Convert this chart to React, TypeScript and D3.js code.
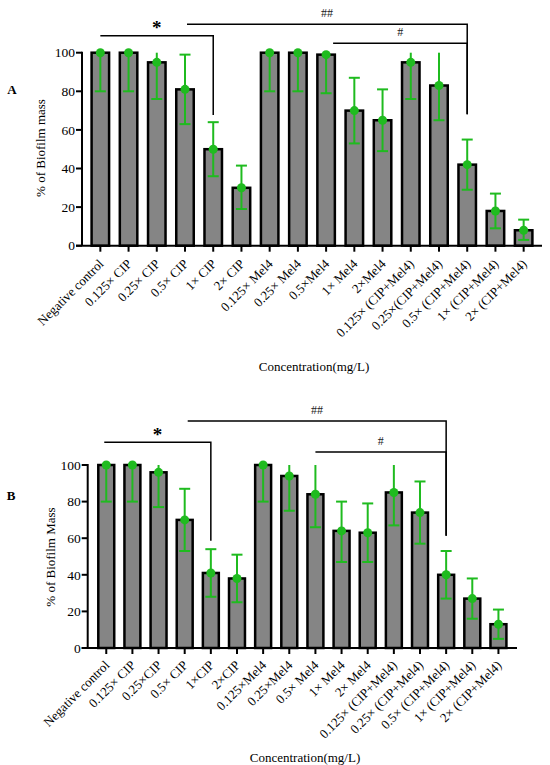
import React from "react";
import * as d3 from "d3";

// ---------- DATA ----------
const categoriesA = [
  "Negative control", "0.125× CIP", "0.25× CIP", "0.5× CIP", "1× CIP", "2× CIP",
  "0.125× Mel4", "0.25× Mel4", "0.5×Mel4", "1× Mel4", "2×Mel4",
  "0.125× (CIP+Mel4)", "0.25×(CIP+Mel4)", "0.5× (CIP+Mel4)", "1× (CIP+Mel4)", "2× (CIP+Mel4)",
];
const meansA = [100, 100, 95, 81, 50, 30, 100, 100, 99, 70, 65, 95, 83, 42, 18, 8];
const lowA = [80, 80, 76, 63, 36, 19, 80, 80, 79, 53, 49, 76, 65, 29, 9, 3];
const highA = [100, 100, 100, 99, 64, 41.5, 100, 100, 100, 87, 81, 100, 100, 55, 27, 13.5];

const categoriesB = [
  "Negative control", "0.125× CIP", "0.25×CIP", "0.5× CIP", "1×CIP", "2×CIP",
  "0.125×Mel4", "0.25×Mel4", "0.5× Mel4", "1× Mel4", "2× Mel4",
  "0.125× (CIP+Mel4)", "0.25× (CIP+Mel4)", "0.5× (CIP+Mel4)", "1× (CIP+Mel4)", "2× (CIP+Mel4)",
];
const meansB = [100, 100, 96, 70, 41, 38, 100, 94, 84, 64, 63, 85, 74, 40, 27, 13];
const lowB = [80, 80, 77, 53, 28, 25, 80, 75, 66, 47, 47, 67, 57, 27, 16, 5];
const highB = [100, 100, 100, 87, 54, 51, 100, 100, 100, 80, 79, 100, 91, 53, 38, 21];

const yTicks = [0, 20, 40, 60, 80, 100];

// significance brackets: label, from index, to index
const sigLabels = ["*", "##", "#"];
const sigFrom = [0, 3, 8];
const sigTo = [4, 13, 13];

// ---------- STYLE ----------
const FONT = "'Liberation Serif', 'Times New Roman', serif";
const GREEN = "#1fbb1f";
const BAR_FILL = "#858585";

type PanelProps = {
  letter: string;
  categories: string[];
  means: number[];
  low: number[];
  high: number[];
  yTitle: string;
  layout: {
    axisX: number; axisRight: number; y0: number; y100: number;
    padInner: number; padOuter: number;
    letterX: number; letterY: number;
    yTitleX: number; yTitleY: number;
    xTitleX: number; xTitleY: number;
    labelDX: number; labelDY: number;
    sigLineY: number[]; sigDropY: number[]; sigStartShift: number[];
  };
};

function Panel({ letter, categories, means, low, high, yTitle, layout: L }: PanelProps) {
  const x = d3.scaleBand<string>()
    .domain(categories)
    .range([L.axisX, L.axisRight])
    .paddingInner(L.padInner)
    .paddingOuter(L.padOuter);
  const y = d3.scaleLinear().domain([0, 100]).range([L.y0, L.y100]);
  const bw = x.bandwidth();
  const cx = (i: number) => (x(categories[i]) as number) + bw / 2;
  const capHalf = 5.5;

  return (
    <g>
      <text x={L.letterX} y={L.letterY} fontFamily={FONT} fontWeight="bold" fontSize={13} textAnchor="middle" dominantBaseline="central">{letter}</text>

      {/* bars */}
      {categories.map((c, i) => (
        <rect key={"b" + i} x={x(c)} y={y(means[i])} width={bw} height={y(0) - y(means[i])}
          fill={BAR_FILL} stroke="#000" strokeWidth={2.5} />
      ))}

      {/* error bars */}
      {categories.map((c, i) => {
        const xc = cx(i);
        const hi = Math.min(high[i], 100);
        return (
          <g key={"e" + i} stroke={GREEN} strokeWidth={2}>
            <line x1={xc} x2={xc} y1={y(low[i])} y2={y(hi)} />
            <line x1={xc - capHalf} x2={xc + capHalf} y1={y(low[i])} y2={y(low[i])} />
            {high[i] < 100 && <line x1={xc - capHalf} x2={xc + capHalf} y1={y(hi)} y2={y(hi)} />}
            <circle cx={xc} cy={y(means[i])} r={4.5} fill={GREEN} stroke="none" />
          </g>
        );
      })}

      {/* axes */}
      <line x1={L.axisX} x2={L.axisX} y1={y(100) - 1} y2={y(0)} stroke="#000" strokeWidth={2} />
      <line x1={L.axisX - 6} x2={L.axisRight} y1={y(0)} y2={y(0)} stroke="#000" strokeWidth={2} />
      {yTicks.map((t) => (
        <g key={"yt" + t}>
          <line x1={L.axisX - 6} x2={L.axisX} y1={y(t)} y2={y(t)} stroke="#000" strokeWidth={2} />
          <text x={L.axisX - 7} y={y(t)} dy="0.35em" textAnchor="end" fontFamily={FONT} fontSize={13.5}>{t}</text>
        </g>
      ))}
      {categories.map((c, i) => (
        <g key={"xt" + i}>
          <line x1={cx(i)} x2={cx(i)} y1={y(0)} y2={y(0) + 6} stroke="#000" strokeWidth={2} />
          <text transform={`translate(${cx(i) + L.labelDX},${y(0) + L.labelDY}) rotate(-45)`} textAnchor="end"
            fontFamily={FONT} fontSize={13}>{c}</text>
        </g>
      ))}

      <text transform={`translate(${L.yTitleX},${L.yTitleY}) rotate(-90)`} textAnchor="middle"
        fontFamily={FONT} fontSize={13}>{yTitle}</text>
      <text x={L.xTitleX} y={L.xTitleY} textAnchor="middle" fontFamily={FONT} fontSize={13}>Concentration(mg/L)</text>

      {/* significance brackets */}
      {sigLabels.map((lab, k) => {
        const xs = cx(sigFrom[k]) + L.sigStartShift[k];
        const xe = cx(sigTo[k]);
        const ly = L.sigLineY[k];
        const isStar = lab === "*";
        return (
          <g key={"s" + k}>
            <path d={`M${xs},${ly}H${xe}V${L.sigDropY[k]}`} fill="none" stroke="#000" strokeWidth={1.5} />
            <text x={(xs + xe) / 2} y={isStar ? ly - 1.5 : ly - 7} textAnchor="middle" fontFamily={FONT}
              fontSize={isStar ? 19 : 12} fontWeight={isStar ? "bold" : "normal"} fill={isStar ? "#000" : "#222"}>{lab}</text>
          </g>
        );
      })}
    </g>
  );
}

export default function App() {
  const layoutA = {
    axisX: 82, axisRight: 542, y0: 245.7, y100: 52.7,
    padInner: 0.38, padOuter: 0.34,
    letterX: 12, letterY: 89,
    yTitleX: 45, yTitleY: 148,
    xTitleX: 314, xTitleY: 371,
    labelDX: 4, labelDY: 19,
    sigLineY: [35.7, 24.3, 43.3], sigDropY: [115, 114.3, 114.3], sigStartShift: [0, 2, 7],
  };
  const layoutB = {
    axisX: 87.7, axisRight: 517, y0: 648, y100: 465,
    padInner: 0.39, padOuter: 0.405,
    letterX: 11, letterY: 495,
    yTitleX: 55, yTitleY: 557,
    xTitleX: 305, xTitleY: 762,
    labelDX: 4, labelDY: 18,
    sigLineY: [442.3, 421, 452], sigDropY: [540.7, 535.7, 535.7], sigStartShift: [-2, 3, 0],
  };
  return (
    <svg width={550} height={765} style={{ position: "absolute", left: 0, top: 0, background: "#fff" }}>
      <rect width={550} height={765} fill="#fff" />
      <Panel letter="A" categories={categoriesA} means={meansA} low={lowA} high={highA}
        yTitle="% of Biofilm mass" layout={layoutA} />
      <Panel letter="B" categories={categoriesB} means={meansB} low={lowB} high={highB}
        yTitle="% of Biofilm Mass" layout={layoutB} />
    </svg>
  );
}
